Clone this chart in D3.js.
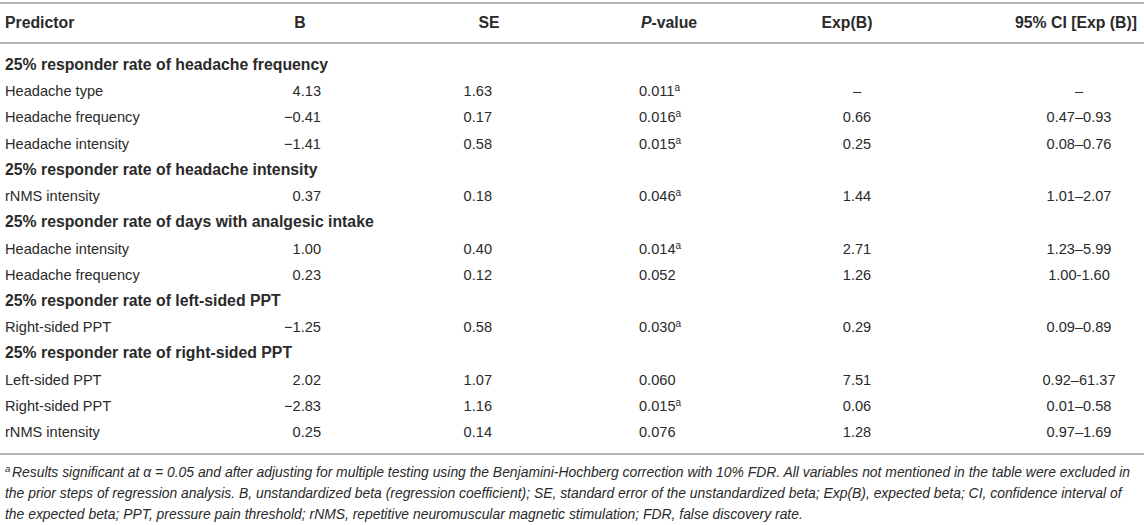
<!DOCTYPE html>
<html>
<head>
<meta charset="utf-8">
<script src="https://cdn.jsdelivr.net/npm/d3@7"></script>
<style>
  html, body { margin: 0; padding: 0; background: #fff; }
  svg text { font-family: "Liberation Sans", Arial, sans-serif; fill: #2a2a2a; }
</style>
</head>
<body>
<svg id="tbl" width="1144" height="525"></svg>
<script>
// table content
const headers = ["Predictor", "B", "SE", "P-value", "Exp(B)", "95% CI [Exp (B)]"];
const sections = [
  "25% responder rate of headache frequency",
  "25% responder rate of headache intensity",
  "25% responder rate of days with analgesic intake",
  "25% responder rate of left-sided PPT",
  "25% responder rate of right-sided PPT"
];
// which section each predictor row belongs to
const rowSection = [0, 0, 0, 1, 2, 2, 3, 4, 4, 4];
const predictors = ["Headache type", "Headache frequency", "Headache intensity",
  "rNMS intensity", "Headache intensity", "Headache frequency",
  "Right-sided PPT", "Left-sided PPT", "Right-sided PPT", "rNMS intensity"];
const bVals  = ["4.13", "\u22120.41", "\u22121.41", "0.37", "1.00", "0.23", "\u22121.25", "2.02", "\u22122.83", "0.25"];
const seVals = ["1.63", "0.17", "0.58", "0.18", "0.40", "0.12", "0.58", "1.07", "1.16", "0.14"];
const pVals  = ["0.011", "0.016", "0.015", "0.046", "0.014", "0.052", "0.030", "0.060", "0.015", "0.076"];
const pSig   = [true, true, true, true, true, false, true, false, true, false];
const expB   = ["\u2013", "0.66", "0.25", "1.44", "2.71", "1.26", "0.29", "7.51", "0.06", "1.28"];
const ciVals = ["\u2013", "0.47\u20130.93", "0.08\u20130.76", "1.01\u20132.07", "1.23\u20135.99",
  "1.00-1.60", "0.09\u20130.89", "0.92\u201361.37", "0.01\u20130.58", "0.97\u20131.69"];
const footLines = [
  "Results significant at \u03b1 = 0.05 and after adjusting for multiple testing using the Benjamini-Hochberg correction with 10% FDR. All variables not mentioned in the table were excluded in",
  "the prior steps of regression analysis. B, unstandardized beta (regression coefficient); SE, standard error of the unstandardized beta; Exp(B), expected beta; CI, confidence interval of",
  "the expected beta; PPT, pressure pain threshold; rNMS, repetitive neuromuscular magnetic stimulation; FDR, false discovery rate."
];

// build flat row list: section headings interleaved with predictor rows
const rows = [];
predictors.forEach((p, i) => {
  if (i === 0 || rowSection[i] !== rowSection[i - 1]) rows.push({type: "sec", label: sections[rowSection[i]]});
  rows.push({type: "row", i: i});
});

const W = 1144;
const svg = d3.select("#tbl");
const fs = 14.6, fsb = 15.8;
const x0 = 5;

const y = d3.scalePoint().domain(d3.range(rows.length)).range([65, 432]);

// rules
const rule = (yy) => svg.append("line").attr("x1", 0).attr("x2", W)
  .attr("y1", yy).attr("y2", yy).attr("stroke", "#b3b3b3").attr("stroke-width", 2);
rule(3); rule(43); rule(454);

// header
const hdr = svg.append("g").attr("font-weight", "bold").attr("font-size", fsb);
const hy = 28;
hdr.append("text").attr("x", x0).attr("y", hy).text(headers[0]);
hdr.append("text").attr("x", 300).attr("y", hy).attr("text-anchor", "middle").text(headers[1]);
hdr.append("text").attr("x", 489).attr("y", hy).attr("text-anchor", "middle").text(headers[2]);
const ph = hdr.append("text").attr("x", 669).attr("y", hy).attr("text-anchor", "middle");
ph.append("tspan").attr("font-style", "italic").text("P");
ph.append("tspan").text(headers[3].slice(1));
hdr.append("text").attr("x", 847).attr("y", hy).attr("text-anchor", "middle").text(headers[4]);
hdr.append("text").attr("x", 1137).attr("y", hy).attr("text-anchor", "end").text(headers[5]);

// body rows
const body = svg.append("g").attr("font-size", fs);
const g = body.selectAll("g.r").data(rows).enter().append("g")
  .attr("transform", (d, k) => `translate(0,${y(k) + 5})`);

g.filter(d => d.type === "sec").append("text")
  .attr("x", x0).attr("font-weight", "bold").attr("font-size", fsb).text(d => d.label);

const r = g.filter(d => d.type === "row");
r.append("text").attr("x", x0).text(d => predictors[d.i]);
r.append("text").attr("x", 321).attr("text-anchor", "end").text(d => bVals[d.i]);
r.append("text").attr("x", 492).attr("text-anchor", "end").text(d => seVals[d.i]);
const pt = r.append("text").attr("x", 639);
pt.append("tspan").text(d => pVals[d.i]);
pt.filter(d => pSig[d.i]).append("tspan").attr("dy", -5).attr("font-size", 10).text("a");
r.append("text").attr("x", 857).attr("text-anchor", "middle").text(d => expB[d.i]);
r.append("text").attr("x", 1079).attr("text-anchor", "middle").text(d => ciVals[d.i]);

// footnote
const fn = svg.append("g").attr("font-size", 13.9).attr("font-style", "italic");
fn.append("text").attr("x", x0).attr("y", 472).attr("font-size", 9.5).text("a");
fn.selectAll("text.l").data(footLines).enter().append("text")
  .attr("x", (d, k) => k === 0 ? x0 + 7 : x0)
  .attr("y", (d, k) => 477 + k * 21)
  .text(d => d);
</script>
</body>
</html>
